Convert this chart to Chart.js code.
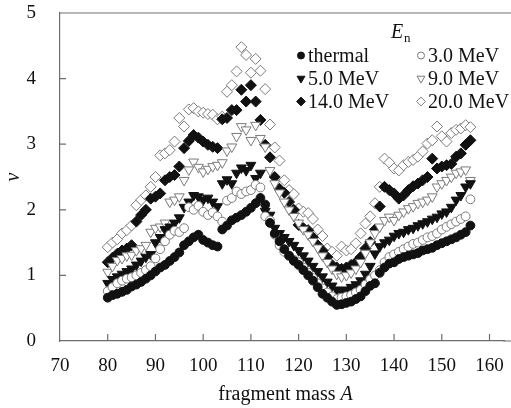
<!DOCTYPE html>
<html>
<head>
<meta charset="utf-8">
<script src="https://cdn.jsdelivr.net/npm/chart.js@4.4.1/dist/chart.umd.min.js"></script>
<style>
  html, body { margin: 0; padding: 0; background: #fff; }
  #wrap { width: 511px; height: 408px; }
</style>
</head>
<body>
<div id="wrap"><canvas id="nuChart"></canvas></div>
<script>
"use strict";

/* fragment masses A */
var mass = [80, 81, 82, 83, 84, 85, 86, 87, 88, 89,
            90, 91, 92, 93, 94, 95, 96, 97, 98, 99,
            100, 101, 102, 103, 104, 105, 106, 107, 108, 109,
            110, 111, 112, 113, 114, 115, 116, 117, 118, 119,
            120, 121, 122, 123, 124, 125, 126, 127, 128, 129,
            130, 131, 132, 133, 134, 135, 136, 137, 138, 139,
            140, 141, 142, 143, 144, 145, 146, 147, 148, 149,
            150, 151, 152, 153, 154, 155, 156];

/* neutron multiplicity nu(A), one array per incident energy */
var nuThermal = [0.66, 0.70, 0.72, 0.75, 0.78, 0.83, 0.86, 0.90, 0.95, 1.00,
                 1.06, 1.12, 1.16, 1.22, 1.28, 1.35, 1.46, 1.52, 1.58, 1.62,
                 1.54, 1.50, 1.46, 1.44, 1.70, 1.76, 1.84, 1.88, 1.92, 1.97,
                 2.03, 2.10, 2.18, 2.08, 1.80, 1.64, 1.52, 1.40, 1.30, 1.22,
                 1.16, 1.08, 1.00, 0.92, 0.82, 0.72, 0.66, 0.60, 0.55, 0.56,
                 0.58, 0.60, 0.64, 0.68, 0.76, 0.84, 0.88, 1.04, 1.12, 1.18,
                 1.20, 1.25, 1.28, 1.30, 1.32, 1.34, 1.38, 1.40, 1.42, 1.46,
                 1.49, 1.52, 1.55, 1.58, 1.62, 1.66, 1.76];
var nu3MeV = [0.76, 0.82, 0.88, 0.92, 0.95, 0.97, 1.00, 1.04, 1.08, 1.14,
              1.26, 1.40, 1.52, 1.62, 1.68, 1.66, 1.72, 2.04, 2.00, 2.06,
              1.97, 1.92, 1.96, 1.90, 1.82, 2.14, 2.18, 2.28, 2.24, 2.28,
              2.30, 2.38, 2.34, 1.90, 1.84, 1.62, 1.46, 1.36, 1.30, 1.24,
              1.20, 1.12, 1.04, 0.96, 0.88, 0.80, 0.74, 0.68, 0.64, 0.66,
              0.68, 0.70, 0.74, 0.78, 0.86, 0.94, 1.00, 1.08, 1.20, 1.28,
              1.32, 1.36, 1.40, 1.44, 1.48, 1.50, 1.54, 1.58, 1.60, 1.64,
              1.70, 1.74, 1.78, 1.82, 1.86, 1.90, 2.16];
var nu5MeV = [0.88, 0.94, 0.98, 1.02, 1.06, 1.10, 1.16, 1.22, 1.28, 1.32,
              1.50, 1.58, 1.70, 1.74, 1.80, 1.88, 2.04, 2.12, 2.22, 2.20,
              2.15, 2.18, 2.12, 2.05, 2.40, 2.46, 2.40, 2.56, 2.64, 2.60,
              2.68, 2.48, 2.56, 1.98, 1.92, 1.72, 1.64, 1.58, 1.52, 1.46,
              1.38, 1.30, 1.22, 1.14, 1.06, 0.98, 0.90, 0.84, 0.78, 0.76,
              0.78, 0.82, 0.86, 0.92, 1.02, 1.14, 1.33, 1.44, 1.50, 1.54,
              1.60, 1.64, 1.66, 1.70, 1.72, 1.76, 1.79, 1.82, 1.86, 1.89,
              1.94, 1.97, 2.04, 2.15, 2.22, 2.35, 2.40];
var nu9MeV = [1.05, 1.14, 1.23, 1.26, 1.30, 1.31, 1.38, 1.41, 1.46, 1.66,
              1.72, 1.74, 1.80, 2.12, 2.15, 2.20, 2.45, 2.61, 2.73, 2.65,
              2.58, 2.62, 2.66, 2.68, 2.72, 2.90, 2.96, 3.12, 3.27, 3.22,
              3.06, 3.29, 3.09, 2.96, 2.60, 2.40, 2.26, 2.12, 2.00, 1.90,
              1.80, 1.70, 1.62, 1.52, 1.42, 1.30, 1.20, 1.10, 1.02, 0.98,
              1.00, 1.04, 1.10, 1.20, 1.34, 1.50, 1.64, 1.74, 1.84, 1.89,
              1.84, 1.92, 1.97, 2.02, 2.05, 2.10, 2.12, 2.15, 2.20, 2.35,
              2.40, 2.45, 2.50, 2.56, 2.58, 2.61, 2.45];
var nu14MeV = [1.20, 1.27, 1.33, 1.38, 1.41, 1.46, 1.82, 1.92, 2.00, 2.17,
               2.20, 2.25, 2.45, 2.50, 2.53, 2.66, 2.94, 3.05, 3.14, 3.10,
               3.04, 2.99, 2.96, 2.94, 3.38, 3.40, 3.52, 3.52, 3.83, 3.65,
               3.90, 3.65, 3.37, 2.99, 2.80, 2.50, 2.32, 2.26, 2.12, 2.00,
               1.77, 1.72, 1.69, 1.58, 1.46, 1.38, 1.28, 1.16, 1.12, 1.10,
               1.12, 1.16, 1.20, 1.28, 1.41, 1.51, 1.70, 2.05, 2.35, 2.30,
               2.25, 2.17, 2.22, 2.30, 2.36, 2.40, 2.45, 2.50, 2.78, 2.63,
               2.66, 2.68, 2.70, 2.81, 2.86, 2.99, 3.06];
var nu20MeV = [1.43, 1.50, 1.55, 1.64, 1.69, 1.76, 2.07, 2.15, 2.22, 2.35,
               2.50, 2.83, 2.86, 2.91, 3.04, 3.40, 3.27, 3.53, 3.55, 3.50,
               3.48, 3.46, 3.45, 3.38, 3.42, 3.80, 3.90, 4.11, 4.48, 4.36,
               4.09, 4.30, 4.12, 3.84, 3.30, 2.95, 2.75, 2.45, 2.30, 2.24,
               2.02, 1.97, 1.95, 1.86, 1.70, 1.60, 1.41, 1.36, 1.30, 1.44,
               1.38, 1.40, 1.49, 1.64, 1.79, 1.90, 2.10, 2.35, 2.78, 2.72,
               2.63, 2.60, 2.68, 2.73, 2.76, 2.81, 2.89, 3.01, 3.06, 3.27,
               3.12, 3.04, 3.17, 3.22, 3.24, 3.29, 3.26];

var seriesLabels = ['thermal', '3.0 MeV', '5.0 MeV', '9.0 MeV', '14.0 MeV', '20.0 MeV'];
var xTicks = [70, 80, 90, 100, 110, 120, 130, 140, 150, 160];
var yTicks = [0, 1, 2, 3, 4, 5];

var SERIF = "'Liberation Serif', 'Times New Roman', serif";
var INK = '#111';
var GREY = '#7a7a7a';
var AXIS = '#6e6e6e';

function pairs(vals) {
  return vals.map(function(v, i) { return { x: mass[i], y: v }; });
}

/* marker look per series: [pointStyle, rotation, filled, radius] */
var looks = [
  ['circle',   0,   true,  4.4],
  ['circle',   0,   false, 4.4],
  ['triangle', 180, true,  5.7],
  ['triangle', 180, false, 5.7],
  ['rectRot',  0,   true,  5.5],
  ['rectRot',  0,   false, 5.5]
];
var allVals = [nuThermal, nu3MeV, nu5MeV, nu9MeV, nu14MeV, nu20MeV];

var datasets = allVals.map(function(vals, k) {
  var lk = looks[k];
  return {
    label: seriesLabels[k],
    data: pairs(vals),
    pointStyle: lk[0],
    rotation: lk[1],
    pointRadius: lk[3],
    pointHoverRadius: lk[3],
    pointBackgroundColor: lk[2] ? INK : '#fff',
    pointBorderColor: lk[2] ? INK : GREY,
    pointBorderWidth: 1,
    showLine: false
  };
});

/* frame lines to the canvas edge, inward tick marks, x title, legend */
var decor = {
  id: 'decor',
  afterDraw: function(chart) {
    var ctx = chart.ctx, a = chart.chartArea;
    var xs = chart.scales.x, ys = chart.scales.y;
    ctx.save();
    ctx.strokeStyle = AXIS;
    ctx.lineWidth = 1.2;
    ctx.beginPath();
    ctx.moveTo(a.left, a.top);
    ctx.lineTo(chart.width, a.top);
    ctx.moveTo(a.right - 1, a.bottom);
    ctx.lineTo(chart.width, a.bottom);
    xs.ticks.forEach(function(t) {
      if (t.value <= 70) return;
      var px = xs.getPixelForValue(t.value);
      ctx.moveTo(px, a.bottom);
      ctx.lineTo(px, a.bottom - 7);
    });
    ys.ticks.forEach(function(t) {
      if (t.value <= 0 || t.value >= 5) return;
      var py = ys.getPixelForValue(t.value);
      ctx.moveTo(a.left, py);
      ctx.lineTo(a.left + 6, py);
    });
    ctx.stroke();

    /* x axis title with italic A */
    ctx.fillStyle = INK;
    ctx.textBaseline = 'alphabetic';
    ctx.textAlign = 'left';
    var t1 = 'fragment mass ', t2 = 'A';
    ctx.font = '20px ' + SERIF;
    var w1 = ctx.measureText(t1).width;
    ctx.font = 'italic 20px ' + SERIF;
    var w2 = ctx.measureText(t2).width;
    var x0 = (a.left + chart.width) / 2 - (w1 + w2) / 2;
    ctx.font = '20px ' + SERIF;
    ctx.fillText(t1, x0, 400);
    ctx.font = 'italic 20px ' + SERIF;
    ctx.fillText(t2, x0 + w1, 400);

    /* legend title E_n */
    ctx.font = 'italic 20px ' + SERIF;
    ctx.fillText('E', 391, 38);
    ctx.font = '13px ' + SERIF;
    ctx.fillText('n', 404, 42);

    /* legend entries, two columns */
    var cols = [301, 421], rows = [62, 85, 108];
    chart.data.datasets.forEach(function(ds, k) {
      var cx = cols[k % 2], by = rows[Math.floor(k / 2)];
      var lk = looks[k];
      ctx.fillStyle = lk[2] ? INK : '#fff';
      ctx.strokeStyle = lk[2] ? INK : GREY;
      ctx.lineWidth = 1;
      Chart.helpers.drawPoint(ctx, {
        pointStyle: lk[0], rotation: lk[1], radius: lk[3] * 0.8, borderWidth: 1
      }, cx, by - 6.5);
      ctx.fillStyle = INK;
      ctx.font = '20px ' + SERIF;
      ctx.fillText(ds.label, cx + 7, by);
    });
    ctx.restore();
  }
};

new Chart(document.getElementById('nuChart'), {
  type: 'scatter',
  data: { datasets: datasets },
  options: {
    responsive: true,
    maintainAspectRatio: false,
    animation: false,
    layout: { padding: { top: 13, right: 0, bottom: 0, left: 0 } },
    plugins: { legend: { display: false }, tooltip: { enabled: false } },
    scales: {
      x: {
        type: 'linear',
        min: 70,
        max: 163.1,
        afterBuildTicks: function(s) { s.ticks = xTicks.map(function(v) { return { value: v }; }); },
        afterFit: function(s) {
          s.height = 67;
          s.paddingLeft = 0; s.paddingRight = 0;
        },
        grid: { display: false },
        border: { display: true, color: AXIS, width: 1.2 },
        ticks: { autoSkip: false, maxRotation: 0, padding: 6, color: INK,
                 font: { family: SERIF, size: 19 } }
      },
      y: {
        min: 0,
        max: 5,
        afterBuildTicks: function(s) { s.ticks = yTicks.map(function(v) { return { value: v }; }); },
        afterFit: function(s) {
          s.width = 60;
          s.paddingTop = 0; s.paddingBottom = 0;
        },
        grid: { display: false },
        border: { display: true, color: AXIS, width: 1.2 },
        ticks: { padding: 16, color: INK, font: { family: SERIF, size: 19 } },
        title: { display: true, text: 'ν', color: INK, padding: { top: 2, bottom: 0 },
                 font: { family: SERIF, size: 20, style: 'italic' } }
      }
    }
  },
  plugins: [decor]
});
</script>
</body>
</html>
